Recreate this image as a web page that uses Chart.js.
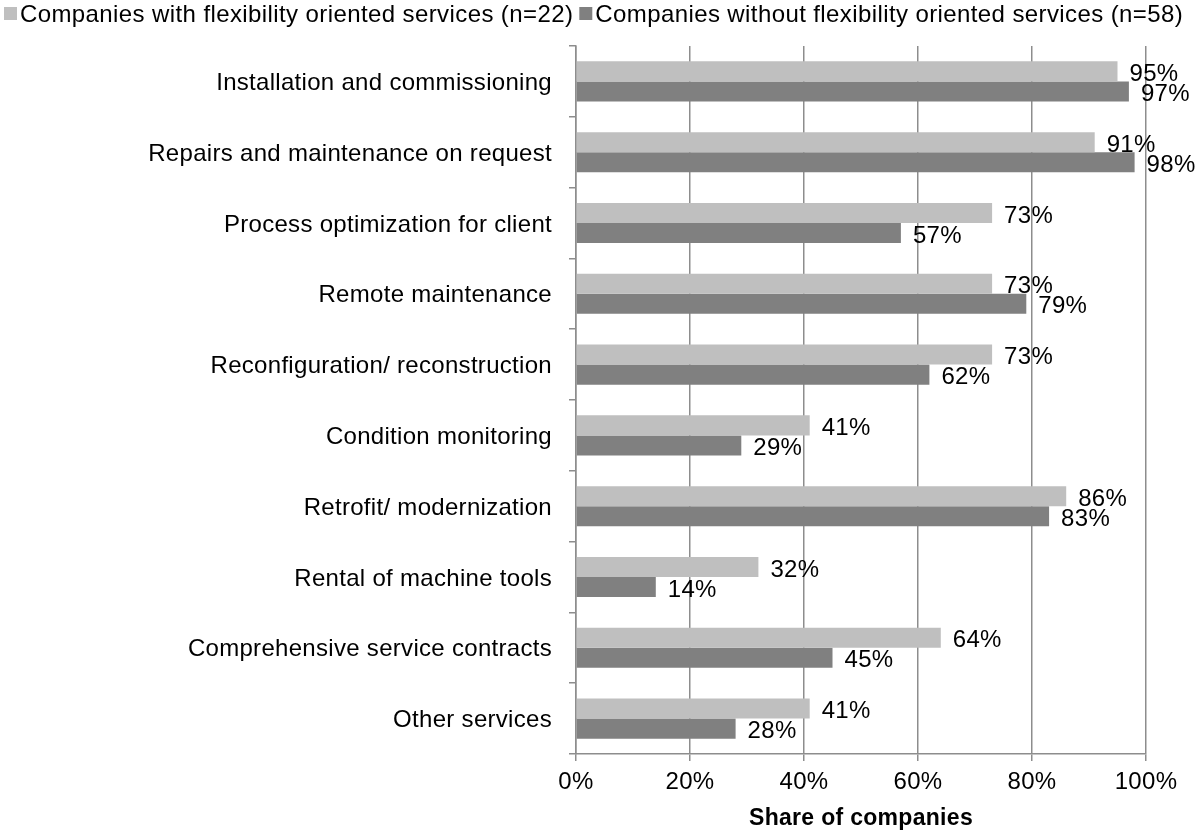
<!DOCTYPE html>
<html>
<head>
<meta charset="utf-8">
<title>Services offered by machine tool companies</title>
<script src="https://cdn.jsdelivr.net/npm/chart.js@4.4.1/dist/chart.umd.min.js"></script>
<style>
  html, body { margin: 0; padding: 0; background: #fff; }
  #wrap { width: 1199px; height: 834px; }
</style>
</head>
<body>
<div id="wrap"><canvas id="chart" width="1199" height="834"></canvas></div>
<script>
'use strict';

/* ── Datos ── */
const CATEGORIAS = [
  'Installation and commissioning',
  'Repairs and maintenance on request',
  'Process optimization for client',
  'Remote maintenance',
  'Reconfiguration/ reconstruction',
  'Condition monitoring',
  'Retrofit/ modernization',
  'Rental of machine tools',
  'Comprehensive service contracts',
  'Other services'
];

const CON_FLEX = [95, 91, 73, 73, 73, 41, 86, 32, 64, 41];
const SIN_FLEX = [97, 98, 57, 79, 62, 29, 83, 14, 45, 28];

const SERIES = [
  'Companies with flexibility oriented services (n=22)',
  'Companies without flexibility oriented services (n=58)'
];

const TICKS_X = [0, 20, 40, 60, 80, 100];

const FUENTE = "'Liberation Sans', Arial, sans-serif";
const GRIS_EJE = '#8d8d8d';

/* Un poco de espacio entre letras en todos los textos del lienzo */
const espaciado = {
  id: 'espaciado',
  beforeLayout(chart) { chart.ctx.letterSpacing = '0.3px'; },
  beforeDraw(chart) { chart.ctx.letterSpacing = '0.3px'; }
};

/* Etiquetas de valor al final de cada barra */
const etiquetasValor = {
  id: 'etiquetasValor',
  afterDatasetsDraw(chart) {
    const ctx = chart.ctx;
    ctx.save();
    ctx.font = '24px ' + FUENTE;
    ctx.fillStyle = '#000';
    ctx.textAlign = 'left';
    ctx.textBaseline = 'middle';
    chart.data.datasets.forEach((ds, i) => {
      chart.getDatasetMeta(i).data.forEach((bar, j) => {
        ctx.fillText(ds.data[j] + '%', bar.x + 12, bar.y + 3);
      });
    });
    ctx.restore();
  }
};

/* Leyenda en una sola línea, alineada a la izquierda */
const leyenda = {
  id: 'leyenda',
  afterDraw(chart) {
    const ctx = chart.ctx;
    ctx.save();
    ctx.font = '24px ' + FUENTE;
    ctx.letterSpacing = '0.4px';
    ctx.textBaseline = 'middle';
    let x = 4;
    chart.data.datasets.forEach(ds => {
      ctx.fillStyle = ds.backgroundColor;
      ctx.fillRect(x, 7, 13, 13);
      ctx.fillStyle = '#000';
      ctx.fillText(ds.label, x + 16, 15);
      x += 16 + ctx.measureText(ds.label).width + 6;
    });
    ctx.restore();
  }
};

new Chart(document.getElementById('chart'), {
  type: 'bar',
  data: {
    labels: CATEGORIAS,
    datasets: [
      { label: SERIES[0], data: CON_FLEX, backgroundColor: '#bfbfbf' },
      { label: SERIES[1], data: SIN_FLEX, backgroundColor: '#808080' }
    ]
  },
  options: {
    indexAxis: 'y',
    responsive: false,
    animation: false,
    categoryPercentage: 0.566,
    barPercentage: 1.0,
    layout: { padding: { top: 46, right: 53, left: 0, bottom: 0 } },
    plugins: {
      legend: { display: false },
      tooltip: { enabled: false }
    },
    scales: {
      x: {
        min: 0,
        max: 100,
        afterBuildTicks(scale) {
          scale.ticks = TICKS_X.map(v => ({ value: v }));
        },
        afterFit(scale) { scale.height = 80; },
        ticks: {
          color: '#000',
          padding: 7,
          font: { family: FUENTE, size: 24 },
          callback: v => v + '%'
        },
        grid: { color: GRIS_EJE, lineWidth: 1.5, tickLength: 7 },
        border: { display: true, color: GRIS_EJE, width: 1.5 },
        title: {
          display: true,
          text: 'Share of companies',
          color: '#000',
          font: { family: FUENTE, size: 23, weight: 'bold' },
          padding: { top: 4, bottom: 2 }
        }
      },
      y: {
        afterFit(scale) { scale.width = 576; },
        ticks: {
          color: '#000',
          padding: 17,
          labelOffset: 2,
          font: { family: FUENTE, size: 24 }
        },
        grid: {
          offset: true,
          drawOnChartArea: false,
          color: GRIS_EJE,
          lineWidth: 1.5,
          tickLength: 7
        },
        border: { display: true, color: GRIS_EJE, width: 1.5 }
      }
    }
  },
  plugins: [espaciado, etiquetasValor, leyenda]
});
</script>
</body>
</html>
